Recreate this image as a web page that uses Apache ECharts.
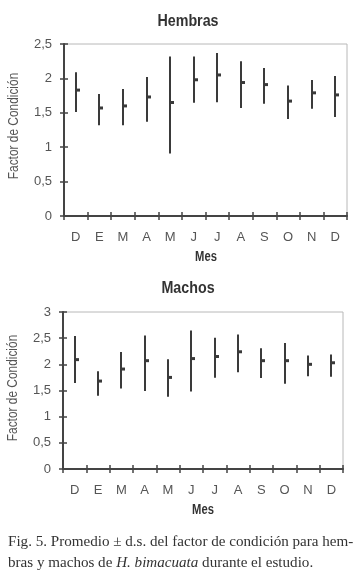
<!DOCTYPE html>
<html>
<head>
<meta charset="utf-8">
<script src="https://cdn.jsdelivr.net/npm/echarts@6/dist/echarts.min.js"></script>
<style>
html,body{margin:0;padding:0;background:#fff;}
#c{width:359px;height:575px;}
</style>
</head>
<body>
<div id="c"></div>
<script>
// Categories (months)
var months = ['D','E','M','A','M','J','J','A','S','O','N','D'];
// Hembras: mean, low (mean - sd), high (mean + sd)
var hembrasMean = [1.83, 1.57, 1.60, 1.73, 1.65, 1.98, 2.05, 1.94, 1.91, 1.67, 1.79, 1.76];
var hembrasLow  = [1.51, 1.32, 1.32, 1.37, 0.91, 1.645, 1.655, 1.57, 1.63, 1.41, 1.56, 1.44];
var hembrasHigh = [2.09, 1.775, 1.845, 2.02, 2.32, 2.32, 2.37, 2.25, 2.15, 1.895, 1.975, 2.035];
// Machos
var machosMean = [2.09, 1.68, 1.91, 2.07, 1.75, 2.11, 2.15, 2.24, 2.07, 2.07, 2.00, 2.03];
var machosLow  = [1.645, 1.40, 1.54, 1.49, 1.38, 1.48, 1.745, 1.85, 1.74, 1.63, 1.77, 1.765];
var machosHigh = [2.54, 1.87, 2.235, 2.55, 2.095, 2.645, 2.51, 2.57, 2.305, 2.41, 2.17, 2.19];
// Tick labels
var hembrasTicks = [0, 0.5, 1, 1.5, 2, 2.5];
var machosTicks = [0, 0.5, 1, 1.5, 2, 2.5, 3];

var FONT = "'Liberation Sans','Arial',sans-serif";
var TXT = '#555';
var AX = '#444';

function build(mean, low, high) {
  return mean.map(function (m, i) { return [i, low[i], high[i], m]; });
}

function renderBar(params, api) {
  var x = api.value(0);
  var pLow = api.coord([x, api.value(1)]);
  var pHigh = api.coord([x, api.value(2)]);
  var pMean = api.coord([x, api.value(3)]);
  var cx = Math.round(pLow[0]);
  return {
    type: 'group',
    children: [
      { type: 'line', shape: { x1: cx, y1: pLow[1], x2: cx, y2: pHigh[1] },
        style: { stroke: '#3a3a3a', lineWidth: 2 } },
      { type: 'rect', shape: { x: cx + 1, y: pMean[1] - 1.5, width: 3, height: 3 },
        style: { fill: '#3a3a3a' } }
    ]
  };
}

function fmt(v) { return String(v).replace('.', ','); }

function xAxes(gi) {
  return [
    { type: 'category', gridIndex: gi, position: 'bottom', data: months, boundaryGap: true,
      axisLine: { lineStyle: { color: AX, width: 2 } },
      axisTick: { show: true, length: 4, inside: false, lineStyle: { color: AX, width: 1.5 } },
      axisLabel: { color: TXT, fontFamily: FONT, fontSize: 13, margin: 15 },
      splitLine: { show: false } },
    { type: 'category', gridIndex: gi, position: 'bottom', data: months, boundaryGap: true,
      axisLine: { show: false },
      axisTick: { show: true, length: 4, inside: true, lineStyle: { color: AX, width: 1.5 } },
      axisLabel: { show: false }, splitLine: { show: false } }
  ];
}

function yAxes(gi, max) {
  return [
    { type: 'value', gridIndex: gi, position: 'left', min: 0, max: max, interval: 0.5,
      axisLine: { show: true, lineStyle: { color: AX, width: 2 } },
      axisTick: { show: true, length: 4, lineStyle: { color: AX, width: 1.5 } },
      axisLabel: { color: TXT, fontFamily: FONT, fontSize: 13, margin: 12, formatter: fmt },
      splitLine: { show: false } },
    { type: 'value', gridIndex: gi, position: 'left', min: 0, max: max, interval: 0.5,
      axisLine: { show: false },
      axisTick: { show: true, length: 4, inside: true, lineStyle: { color: AX, width: 1.5 } },
      axisLabel: { show: false }, splitLine: { show: false } }
  ];
}

var chart = echarts.init(document.getElementById('c'), null, { renderer: 'canvas' });
chart.setOption({
  animation: false,
  backgroundColor: '#fff',
  grid: [
    { left: 64, right: 12, top: 44, height: 172, show: true, borderColor: '#b8b8b8', borderWidth: 1, backgroundColor: 'transparent' },
    { left: 63, right: 16, top: 312, height: 157, show: true, borderColor: '#b8b8b8', borderWidth: 1, backgroundColor: 'transparent' }
  ],
  xAxis: xAxes(0).concat(xAxes(1)),
  yAxis: yAxes(0, 2.5).concat(yAxes(1, 3)),
  series: [
    { type: 'custom', xAxisIndex: 0, yAxisIndex: 0, renderItem: renderBar,
      data: build(hembrasMean, hembrasLow, hembrasHigh), encode: { x: 0, y: [1, 2, 3] } },
    { type: 'custom', xAxisIndex: 2, yAxisIndex: 2, renderItem: renderBar,
      data: build(machosMean, machosLow, machosHigh), encode: { x: 0, y: [1, 2, 3] } }
  ],
  graphic: [
    { type: 'text', x: 188, y: 21, scaleX: 0.84, style: { text: 'Hembras', font: 'bold 17px ' + FONT, fill: '#333', textAlign: 'center', textVerticalAlign: 'middle' } },
    { type: 'text', x: 188, y: 288, scaleX: 0.84, style: { text: 'Machos', font: 'bold 17px ' + FONT, fill: '#333', textAlign: 'center', textVerticalAlign: 'middle' } },
    { type: 'text', x: 206, y: 257, scaleX: 0.8, style: { text: 'Mes', font: 'bold 14px ' + FONT, fill: '#333', textAlign: 'center', textVerticalAlign: 'middle' } },
    { type: 'text', x: 203, y: 510, scaleX: 0.8, style: { text: 'Mes', font: 'bold 14px ' + FONT, fill: '#333', textAlign: 'center', textVerticalAlign: 'middle' } },
    { type: 'text', x: 14, y: 126, rotation: Math.PI / 2, scaleX: 0.85, style: { text: 'Factor de Condición', font: '14px ' + FONT, fill: TXT, textAlign: 'center', textVerticalAlign: 'middle' } },
    { type: 'text', x: 13, y: 388, rotation: Math.PI / 2, scaleX: 0.85, style: { text: 'Factor de Condición', font: '14px ' + FONT, fill: TXT, textAlign: 'center', textVerticalAlign: 'middle' } },
    { type: 'text', x: 8, y: 542, style: { text: 'Fig. 5. Promedio ± d.s. del factor de condición para hem-', font: '15.1px "Liberation Serif", serif', fill: '#333', textAlign: 'left', textVerticalAlign: 'middle' } },
    { type: 'text', x: 8, y: 563, style: {
        text: '{n|bras y machos de }{i|H. bimacuata}{n| durante el estudio.}',
        rich: {
          n: { font: '15.1px "Liberation Serif", serif', fill: '#333' },
          i: { font: 'italic 15.1px "Liberation Serif", serif', fill: '#333' }
        },
        textAlign: 'left', textVerticalAlign: 'middle' } }
  ]
});
</script>
</body>
</html>
